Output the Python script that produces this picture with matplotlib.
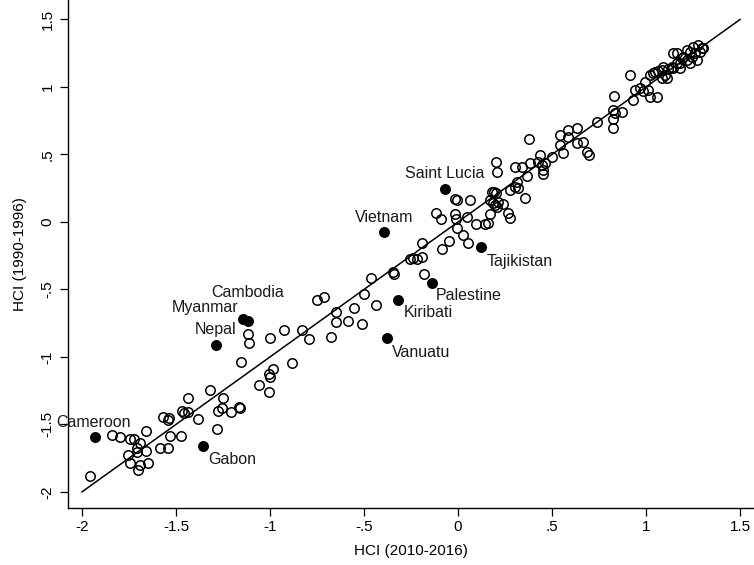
import matplotlib
matplotlib.use("Agg")
import matplotlib.pyplot as plt

plt.rcParams['font.family'] = ['Liberation Sans', 'DejaVu Sans']

# Hollow points: HCI 2010-2016 (x), HCI 1990-1996 (y)
hollow_x = [
    -1.957, -1.842, -1.798, -1.745, -1.723, -1.691, -1.660, -1.706, -1.657, -1.753,
    -1.709, -1.745, -1.691, -1.647, -1.704, -1.585, -1.541, -1.532, -1.475, -1.567,
    -1.541, -1.536, -1.470, -1.457, -1.434, -1.434, -1.385, -1.321, -1.284, -1.278,
    -1.253, -1.248, -1.207, -1.163, -1.160, -1.154, -1.059, -1.003, -1.003, -1.000,
    -0.982, -0.881,
    -1.119, -1.112, -0.998, -0.926, -0.832, -0.791, -0.752, -0.711, -0.649, -0.649,
    -0.587, -0.551, -0.512, -0.500, -0.436, -0.674, -0.464, -0.347, -0.339, -0.255,
    -0.237, -0.220, -0.193, -0.190, -0.181, -0.087, -0.048, -0.119, -0.092, -0.016,
    -0.011, -0.004, 0.028, 0.055, 0.050, -0.018, -0.008, 0.064, 0.096, 0.144,
    0.161, 0.170, 0.179, 0.191, 0.202, 0.170, 0.188, 0.197, 0.206, 0.215,
    0.241, 0.268, 0.277, 0.200, 0.209, 0.277, 0.303, 0.312, 0.321, 0.303,
    0.339, 0.356, 0.365, 0.383, 0.379, 0.427, 0.436, 0.445, 0.450, 0.450,
    0.463, 0.498, 0.543, 0.587, 0.631, 0.587, 0.543, 0.557, 0.631, 0.667,
    0.684, 0.699, 0.738,
    0.915, 0.830, 0.826, 0.835, 0.871, 0.823, 0.826, 0.932, 0.941, 0.968,
    0.986, 1.012, 1.021, 1.057,
    1.021, 1.039, 1.065, 1.083, 1.101, 1.119, 1.137, 1.145, 1.163, 1.181,
    1.198, 1.216, 1.234, 1.243, 1.261, 1.287, 1.305, 1.270, 1.234, 1.110,
    1.083,
    0.995, 1.048, 1.092, 1.163, 1.190, 1.216, 1.252, 1.278, 1.296, 1.145,
    1.181,
]
hollow_y = [
    -1.879, -1.575, -1.595, -1.605, -1.610, -1.640, -1.548, -1.677, -1.694, -1.726,
    -1.701, -1.788, -1.800, -1.788, -1.837, -1.672, -1.674, -1.585, -1.585, -1.442,
    -1.467, -1.454, -1.400, -1.417, -1.405, -1.301, -1.462, -1.244, -1.533, -1.400,
    -1.375, -1.301, -1.405, -1.368, -1.380, -1.039, -1.207, -1.257, -1.128, -1.146,
    -1.089, -1.047,
    -0.830, -0.899, -0.859, -0.800, -0.800, -0.867, -0.578, -0.558, -0.664, -0.738,
    -0.731, -0.635, -0.758, -0.536, -0.615, -0.854, -0.412, -0.373, -0.388, -0.274,
    -0.269, -0.276, -0.257, -0.158, -0.385, -0.202, -0.138, 0.064, 0.022, 0.057,
    0.020, -0.047, -0.096, -0.153, 0.039, 0.172, 0.165, 0.163, -0.017, -0.017,
    -0.010, 0.057, 0.225, 0.225, 0.212, 0.163, 0.143, 0.126, 0.109, 0.150,
    0.133, 0.069, 0.027, 0.447, 0.368, 0.237, 0.262, 0.299, 0.250, 0.410,
    0.410, 0.176, 0.343, 0.439, 0.615, 0.447, 0.496, 0.422, 0.385, 0.356,
    0.435, 0.484, 0.644, 0.681, 0.694, 0.632, 0.570, 0.513, 0.583, 0.594,
    0.521, 0.496, 0.743,
    1.089, 0.936, 0.830, 0.805, 0.812, 0.763, 0.694, 0.904, 0.978, 0.990,
    0.973, 0.978, 0.928, 0.928,
    1.089, 1.106, 1.121, 1.126, 1.089, 1.131, 1.150, 1.250, 1.176, 1.139,
    1.224, 1.200, 1.261, 1.224, 1.250, 1.261, 1.287, 1.200, 1.176, 1.064,
    1.064,
    1.039, 1.113, 1.150, 1.250, 1.213, 1.274, 1.299, 1.311, 1.287, 1.139,
    1.176,
]

# Highlighted (filled) countries
countries = ["Cameroon", "Gabon", "Nepal", "Myanmar", "Cambodia", "Vietnam",
             "Vanuatu", "Kiribati", "Palestine", "Saint Lucia", "Tajikistan"]
filled_x = [-1.931, -1.355, -1.287, -1.142, -1.115, -0.394, -0.379, -0.317, -0.140, -0.069, 0.122]
filled_y = [-1.590, -1.657, -0.911, -0.719, -0.731, -0.072, -0.862, -0.578, -0.449, 0.244, -0.188]

# label placement (offset in pixels, horizontal alignment)
label_offsets = {
    "Cameroon": (-1, 14, "center"),
    "Gabon": (5, -14, "left"),
    "Nepal": (0, 15, "center"),
    "Myanmar": (-5, 12, "right"),
    "Cambodia": (-1, 28, "center"),
    "Vietnam": (0, 14, "center"),
    "Vanuatu": (5, -14, "left"),
    "Kiribati": (5, -13, "left"),
    "Palestine": (4, -13, "left"),
    "Saint Lucia": (0, 15, "center"),
    "Tajikistan": (6, -14, "left"),
}

line_x = [-2, 1.5]
line_y = [-2, 1.5]

ticks = [-2, -1.5, -1, -0.5, 0, 0.5, 1, 1.5]
tick_labels = ["-2", "-1.5", "-1", "-.5", "0", ".5", "1", "1.5"]

axis_font = ['Liberation Sans Narrow', 'Liberation Sans', 'DejaVu Sans']

fig = plt.figure(figsize=(7.54, 5.65), dpi=100)
ax = fig.add_axes([68/754, 57/565, 686/754, 508/565])

ax.plot(hollow_x, hollow_y, linestyle='none', marker='o', ms=6.8,
        mfc='none', mec='black', mew=1.1, zorder=3)
ax.plot(filled_x, filled_y, linestyle='none', marker='o', ms=6.8,
        mfc='black', mec='black', mew=1.1, zorder=4)
ax.plot(line_x, line_y, color='black', lw=1.1, zorder=2)

for name, x, y in zip(countries, filled_x, filled_y):
    dx, dy, ha = label_offsets[name]
    ax.annotate(name, (x, y), xytext=(dx, dy), textcoords='offset pixels',
                ha=ha, va='center', fontsize=11.5, color='#1a1a1a', zorder=5,
                annotation_clip=False)

ax.set_xlim(-2.074, 1.574)
ax.set_ylim(-2.119, 1.644)
ax.set_xticks(ticks)
ax.set_xticklabels(tick_labels, family=axis_font, fontsize=11)
ax.set_yticks(ticks)
ax.set_yticklabels(tick_labels, rotation=90, va='center', family=axis_font, fontsize=11)
ax.spines['top'].set_visible(False)
ax.spines['right'].set_visible(False)
for s in ['left', 'bottom']:
    ax.spines[s].set_linewidth(1.0)
ax.tick_params(axis='both', length=5.5, width=0.9, color='black')
ax.tick_params(axis='x', pad=3)
ax.tick_params(axis='y', pad=4)
ax.set_xlabel("HCI (2010-2016)", family=axis_font, fontsize=11, labelpad=7)
ax.set_ylabel("HCI (1990-1996)", family=axis_font, fontsize=11, labelpad=10)

fig.savefig("out.png", dpi=100)
